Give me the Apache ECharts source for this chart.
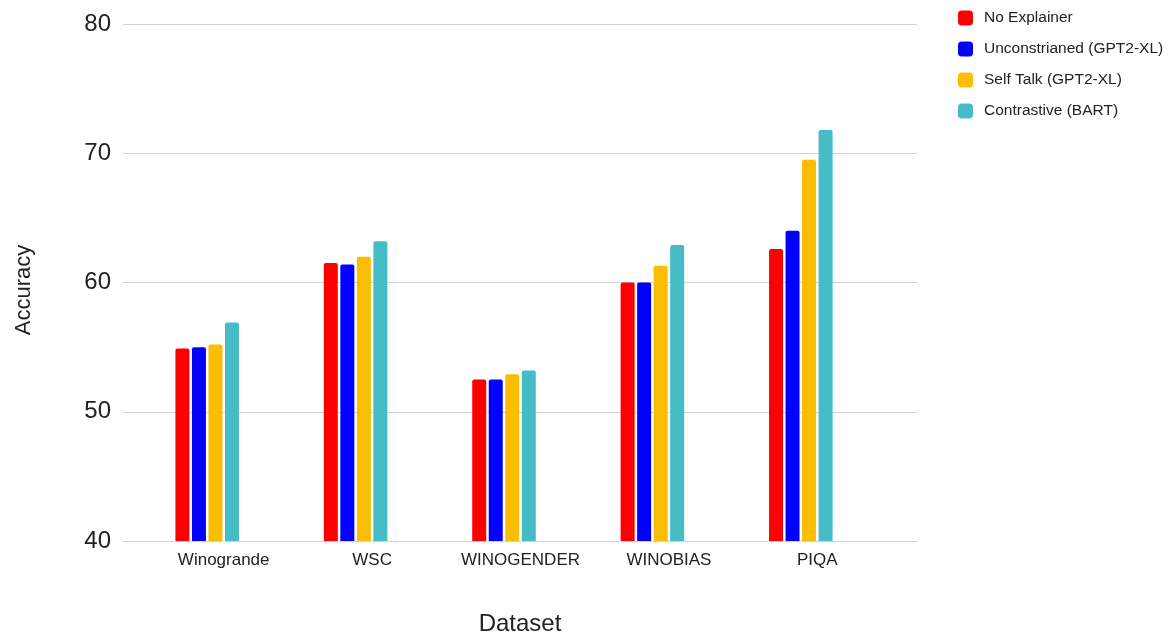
<!DOCTYPE html>
<html>
<head>
<meta charset="utf-8">
<script src="https://cdn.jsdelivr.net/npm/echarts@6/dist/echarts.min.js"></script>
<style>
html,body{margin:0;padding:0;background:#fff;}
#chart{width:1168px;height:635px;}
</style>
</head>
<body>
<div id="chart"></div>
<script>
const categories = ["Winogrande", "WSC", "WINOGENDER", "WINOBIAS", "PIQA"];
const seriesNames = ["No Explainer", "Unconstrianed (GPT2-XL)", "Self Talk (GPT2-XL)", "Contrastive (BART)"];
const noExplainer = [54.9, 61.5, 52.5, 60.0, 62.6];
const unconstrained = [55.0, 61.4, 52.5, 60.0, 64.0];
const selfTalk = [55.2, 62.0, 52.9, 61.3, 69.5];
const contrastive = [56.9, 63.2, 53.2, 62.9, 71.8];
const yTicks = [40, 50, 60, 70, 80];
const colors = ["#ff0000", "#0000ff", "#fbbc04", "#46bdc6"];

const values = [noExplainer, unconstrained, selfTalk, contrastive];
const font = "'Liberation Sans', Arial, sans-serif";

const chart = echarts.init(document.getElementById('chart'), null, {renderer: 'canvas'});
chart.setOption({
  animation: false,
  backgroundColor: '#ffffff',
  textStyle: {fontFamily: font},
  legend: {
    orient: 'vertical',
    left: 958,
    top: 10,
    padding: 0,
    itemWidth: 15,
    itemHeight: 15,
    itemGap: 15,
    icon: 'roundRect',
    data: seriesNames,
    textStyle: {fontSize: 15.5, color: '#222', fontFamily: font, padding: [0, 0, 0, 6]}
  },
  grid: [
    {left: 123, right: 251, top: 24, bottom: 94, outerBoundsMode: 'none'},
    {left: 133, right: 293, top: 24, bottom: 94, outerBoundsMode: 'none'}
  ],
  xAxis: [
    {
      gridIndex: 0, type: 'category', data: categories,
      axisLine: {show: false}, axisTick: {show: false}, axisLabel: {show: false},
      name: 'Dataset', nameLocation: 'middle', nameGap: 71,
      nameTextStyle: {fontSize: 24, color: '#222', fontFamily: font}
    },
    {
      gridIndex: 1, type: 'category', data: categories,
      axisLine: {show: false}, axisTick: {show: false},
      axisLabel: {interval: 0, fontSize: 17, color: '#222', margin: 11, padding: [0, 0, 0, 33], fontFamily: font}
    }
  ],
  yAxis: [
    {
      gridIndex: 0, type: 'value', min: 40, max: 80, interval: 10,
      axisLine: {show: false}, axisTick: {show: false},
      axisLabel: {fontSize: 24, color: '#222', margin: 12, fontFamily: font,
        formatter: v => yTicks.includes(v) ? String(v) : ''},
      splitLine: {lineStyle: {color: '#d3d3d3', width: 1}},
      name: 'Accuracy', nameLocation: 'middle', nameGap: 88, nameRotate: 90,
      nameTextStyle: {fontSize: 22, color: '#222', fontFamily: font, padding: [0, 15, 0, 0]}
    },
    {
      gridIndex: 1, type: 'value', min: 40, max: 80, interval: 10,
      show: false, splitLine: {show: false}
    }
  ],
  series: seriesNames.map((n, i) => ({
    name: n, type: 'bar', xAxisIndex: 1, yAxisIndex: 1,
    data: values[i], barWidth: 14, barGap: '18%',
    itemStyle: {color: colors[i], borderRadius: [2, 2, 0, 0]}
  }))
});
</script>
</body>
</html>
